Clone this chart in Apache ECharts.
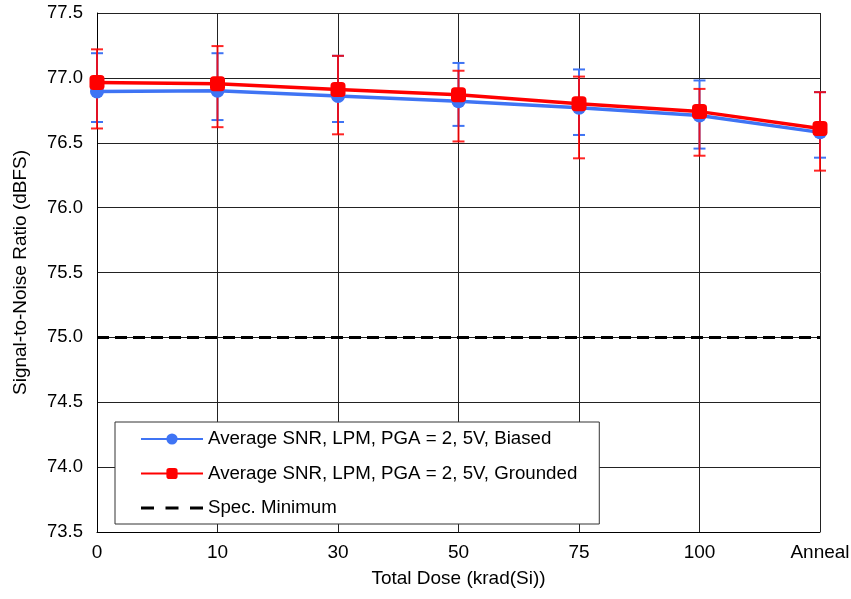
<!DOCTYPE html>
<html>
<head>
<meta charset="utf-8" />
<script src="https://cdn.jsdelivr.net/npm/echarts@6/dist/echarts.min.js"></script>
<style>
  html, body { margin: 0; padding: 0; background: #fff; }
  #snr_chart { width: 851px; height: 599px; }
</style>
</head>
<body>
<div id="snr_chart"></div>
<script>
// x categories (total dose)
const doseLabels = ["0", "10", "30", "50", "75", "100", "Anneal"];

// biased units: average, max, min
const biasedAvg = [76.895, 76.9, 76.86, 76.82, 76.77, 76.71, 76.58];
const biasedHigh = [77.19, 77.19, 77.17, 77.115, 77.065, 76.98, 76.89];
const biasedLow = [76.66, 76.675, 76.66, 76.63, 76.56, 76.455, 76.385];

// grounded units: average, max, min
const groundedAvg = [76.965, 76.955, 76.91, 76.87, 76.8, 76.74, 76.61];
const groundedHigh = [77.22, 77.245, 77.17, 77.055, 77.01, 76.915, 76.89];
const groundedLow = [76.61, 76.62, 76.565, 76.51, 76.38, 76.4, 76.285];

const specMin = [75, 75, 75, 75, 75, 75, 75];

const yTicks = { min: 73.5, max: 77.5, step: 0.5 };

const BLUE = "#3f74f4";
const RED = "#ff0000";

function errorBars(high, low, color, opacity) {
  return {
    type: "custom",
    silent: true,
    z: 1,
    data: high.map((h, i) => [i, h, low[i]]),
    renderItem: function (params, api) {
      const top = api.coord([api.value(0), api.value(1)]);
      const bot = api.coord([api.value(0), api.value(2)]);
      const half = 6;
      const style = { stroke: color, lineWidth: 2, opacity: opacity };
      return {
        type: "group",
        children: [
          { type: "line", shape: { x1: top[0], y1: top[1], x2: bot[0], y2: bot[1] }, style: style },
          { type: "line", shape: { x1: top[0] - half, y1: top[1], x2: top[0] + half, y2: top[1] }, style: style },
          { type: "line", shape: { x1: bot[0] - half, y1: bot[1], x2: bot[0] + half, y2: bot[1] }, style: style },
        ],
      };
    },
  };
}

const myChart = echarts.init(document.getElementById("snr_chart"));

const option = {
  animation: false,
  textStyle: { fontFamily: "Liberation Sans, Arial, sans-serif" },
  grid: { left: 97, right: 31, top: 13, bottom: 67, containLabel: false, outerBoundsMode: "none" },
  xAxis: {
    type: "category",
    data: doseLabels,
    boundaryGap: false,
    name: "Total Dose (krad(Si))",
    nameLocation: "middle",
    nameGap: 37,
    nameTextStyle: { fontSize: 19, color: "#000" },
    axisLine: { lineStyle: { color: "#000", width: 1 } },
    axisTick: { show: false },
    axisLabel: { fontSize: 19, color: "#000", margin: 11 },
    splitLine: { show: true, lineStyle: { color: "#222", width: 1 } },
  },
  yAxis: {
    type: "value",
    min: yTicks.min,
    max: yTicks.max,
    interval: yTicks.step,
    name: "Signal-to-Noise Ratio (dBFS)",
    nameLocation: "middle",
    nameGap: 67,
    nameTextStyle: { fontSize: 19, color: "#000" },
    axisLine: { show: true, lineStyle: { color: "#000", width: 1 } },
    axisTick: { show: false },
    axisLabel: {
      fontSize: 18.5,
      color: "#000",
      margin: 14,
      formatter: (v) => v.toFixed(1),
    },
    splitLine: { show: true, lineStyle: { color: "#222", width: 1 } },
  },
  legend: {
    orient: "vertical",
    left: 115,
    top: 422,
    padding: [7, 22, 6, 25],
    backgroundColor: "#fff",
    borderColor: "#333",
    borderWidth: 1,
    itemWidth: 62,
    itemHeight: 14,
    itemGap: 14.5,
    symbolKeepAspect: true,
    textStyle: { fontSize: 18.7, color: "#000", lineHeight: 20 },
    data: [
      { name: "Average SNR, LPM, PGA = 2, 5V, Biased" },
      { name: "Average SNR, LPM, PGA = 2, 5V, Grounded" },
      {
        name: "Spec. Minimum",
        icon: "path://M0,0h13v3h-13zM24.5,0h13v3h-13zM49,0h13v3h-13z",
        itemStyle: { color: "#000" },
      },
    ],
  },
  series: [
    errorBars(biasedHigh, biasedLow, BLUE, 1),
    errorBars(groundedHigh, groundedLow, RED, 0.85),
    {
      name: "Spec. Minimum",
      type: "line",
      data: specMin,
      symbol: "none",
      z: 2,
      lineStyle: { color: "#000", width: 3, type: [12, 6] },
      itemStyle: { color: "#000" },
    },
    {
      name: "Average SNR, LPM, PGA = 2, 5V, Biased",
      type: "line",
      data: biasedAvg,
      symbol: "circle",
      symbolSize: 14,
      z: 3,
      lineStyle: { color: BLUE, width: 3.5 },
      itemStyle: { color: BLUE },
    },
    {
      name: "Average SNR, LPM, PGA = 2, 5V, Grounded",
      type: "line",
      data: groundedAvg,
      symbol: "roundRect",
      symbolSize: 15,
      z: 4,
      lineStyle: { color: RED, width: 3.5 },
      itemStyle: { color: RED },
    },
  ],
};

myChart.setOption(option, true);
</script>
</body>
</html>
